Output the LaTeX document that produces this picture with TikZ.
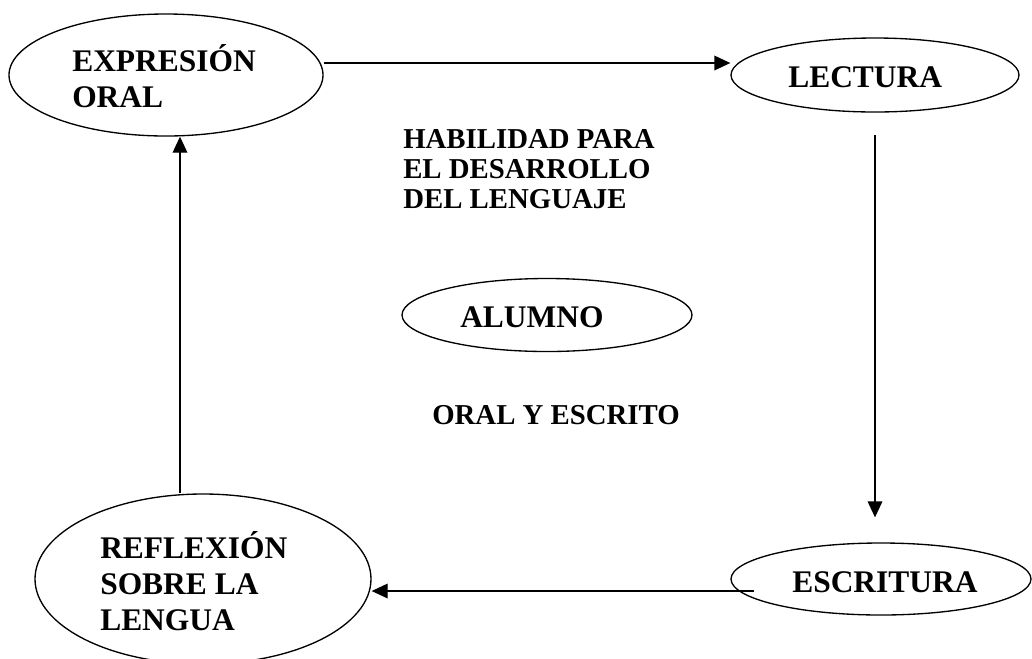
\documentclass[tikz,border=0pt]{standalone}
\usepackage{fontspec}
\setmainfont{Liberation Serif}
\usetikzlibrary{shapes.geometric,arrows.meta}
\tikzset{
  ell/.style={draw, ellipse, line width=1pt, inner sep=0pt},
  big/.style={font=\fontsize{23.6pt}{27pt}\selectfont\bfseries, inner sep=0pt, anchor=base west, align=left},
  small/.style={font=\fontsize{21.6pt}{22.5pt}\selectfont\bfseries, inner sep=0pt, anchor=base west, align=left},
  arr/.style={line width=1pt, -{Triangle[length=12pt,width=11pt]}}
}
\begin{document}
\begin{tikzpicture}[x=0.75pt,y=-0.75pt]
\clip (0,0) rectangle (1032,658);
\fill[white] (0,0) rectangle (1032,658);
% ellipses
\node[ell, minimum width=235.5pt, minimum height=91.5pt] (expr) at (166,75) {};
\node[ell, minimum width=216pt, minimum height=55.5pt] (lect) at (875,75) {};
\node[ell, minimum width=217.5pt, minimum height=54.75pt] (alum) at (547,315) {};
\node[ell, minimum width=225pt, minimum height=54pt] (escr) at (881,579) {};
\node[ell, minimum width=252pt, minimum height=127.5pt] (refl) at (203,579) {};
% texts (base anchor = baseline of the last line)
\node[big] (exprt) at (72,107) {EXPRESIÓN\\ORAL};
\node[big] (lectt) at (788,87) {LECTURA};
\node[big] (alumt) at (460,327) {ALUMNO};
\node[big] (escrt) at (792,592) {ESCRITURA};
\node[big] (reflt) at (100,630) {REFLEXIÓN\\SOBRE LA\\LENGUA};
\node[small] (habt) at (403,208) {HABILIDAD PARA\\EL DESARROLLO\\DEL LENGUAJE};
\node[small] (oralt) at (432,424) {ORAL Y ESCRITO};
% connectors
\draw[arr] ([yshift=9pt]expr.east) -- ([yshift=9pt]lect.west);
\draw[arr] ([yshift=-17pt]lect.south) -- ([yshift=18.75pt]lect.south |- escr.north);
\coordinate (l0) at ([xshift=18pt,yshift=-9pt]escr.west);
\draw[arr] (l0) -- (refl.east |- l0);
\coordinate (upx) at (180,0);
\draw[arr] (refl.north -| upx) -- (expr.south -| upx);
\end{tikzpicture}
\end{document}
